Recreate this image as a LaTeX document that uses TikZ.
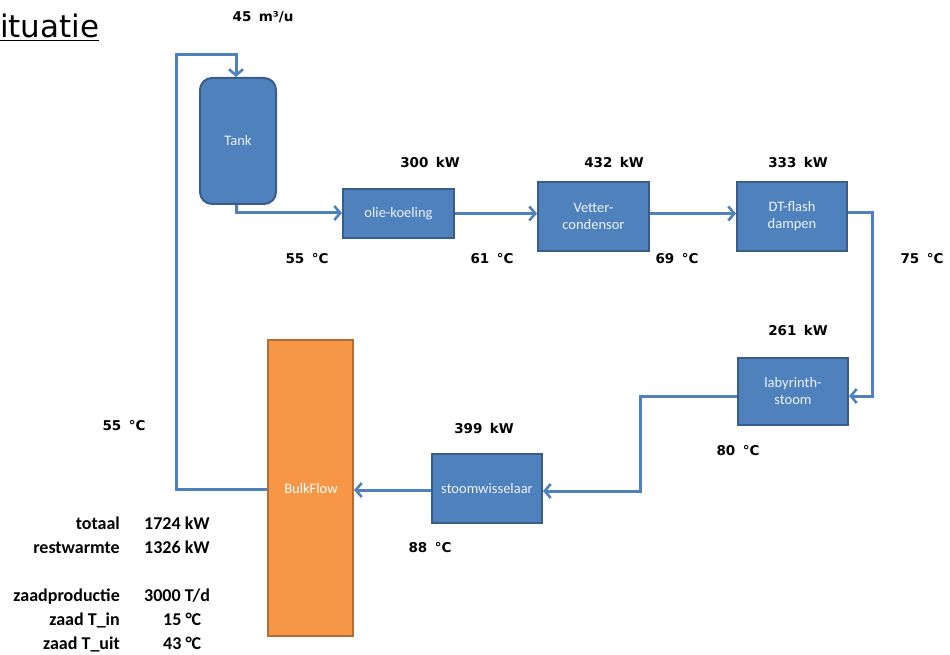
\documentclass[tikz,border=0pt]{standalone}
\usepackage{fontspec}
\setmainfont{DejaVu Sans}
\newfontfamily\calib{Carlito}
\usetikzlibrary{arrows.meta}
\definecolor{boxblue}{HTML}{4F81BD}
\definecolor{boxedge}{HTML}{385D8A}
\definecolor{lineblue}{HTML}{4F81BD}
\definecolor{boxorange}{HTML}{F79646}
\definecolor{orangeedge}{HTML}{B66D31}
\definecolor{boxtext}{HTML}{EEF2F8}
\newcommand{\gp}{\hspace{0.55em}}
\tikzset{
  x=1pt,y=-1pt,
  unit/.style={draw=boxedge,fill=boxblue,line width=2pt,minimum width=#1,
     text=boxtext,font=\calib\fontsize{14.5}{17}\selectfont,align=center,inner sep=0pt},
  lbl/.style={font=\bfseries\fontsize{13.5}{15}\selectfont,inner sep=0pt},
  tbl/.style={font=\calib\bfseries\fontsize{18}{20}\selectfont,inner sep=0pt},
  flow/.style={draw=lineblue,line width=3pt,-{Straight Barb[length=6pt,width=14pt,line width=2.6pt]}},
}
\begin{document}
\begin{tikzpicture}
\useasboundingbox (0,0) rectangle (950,655);
% title
\node[anchor=base west,inner sep=0pt,font=\fontsize{31}{34}\selectfont] (title) at (0,38) {\underline{ituatie}};
% units
\node[unit=76pt,minimum height=126pt,rounded corners=12pt] (tank) at (238,141) {Tank};
\node[unit=111pt,minimum height=49pt] (olie) at (398.5,213.5) {olie-koeling};
\node[unit=111pt,minimum height=69pt] (vetter) at (593.5,216.5) {Vetter-\\condensor};
\node[unit=110pt,minimum height=69pt] (dt) at (792,216.5) {DT-flash\\dampen};
\node[unit=110pt,minimum height=67pt] (laby) at (793,391.5) {labyrinth-\\stoom};
\node[unit=110pt,minimum height=69pt] (stoom) at (487,488.5) {stoomwisselaar};
\node[draw=orangeedge,fill=boxorange,line width=2pt,minimum width=85pt,minimum height=296pt,
      inner sep=0pt] (bulk) at (310.5,488) {};
\node[text=white,font=\calib\fontsize{14.5}{17}\selectfont,inner sep=0pt] (bulktxt) at (311,489) {BulkFlow};
% connectors
\coordinate (c1) at (176,489);
\coordinate (c2) at (176,55);
\coordinate (c3) at (236,55);
\draw[flow] (bulk.west |- c1) -- (c1) -- (c2) -- (c3) -- (c3 |- tank.north);
\coordinate (d1) at (236,213);
\draw[flow] (d1 |- tank.south) -- (d1) -- (olie.west |- d1);
\draw[flow] (olie.east) -- (vetter.west |- olie.east);
\draw[flow] (vetter.east |- olie.east) -- (dt.west |- olie.east);
\coordinate (e1) at (872,213);
\coordinate (e2) at (872,396);
\draw[flow] (dt.east |- e1) -- (e1) -- (e2) -- (laby.east |- e2);
\coordinate (f1) at (640,396);
\coordinate (f2) at (640,491);
\draw[flow] (laby.west |- f1) -- (f1) -- (f2) -- (stoom.east |- f2);
\draw[flow] (stoom.west |- 0,490) -- (bulk.east |- 0,490);
% labels
\node[lbl] (q0) at (263,17) {45\gp m³/u};
\node[lbl] (q1) at (430,162) {300\gp kW};
\node[lbl] (q2) at (614,162) {432\gp kW};
\node[lbl] (q3) at (798,162) {333\gp kW};
\node[lbl] (q4) at (798,330) {261\gp kW};
\node[lbl] (q5) at (484,428) {399\gp kW};
\node[lbl] (t1) at (307,259) {55\gp °C};
\node[lbl] (t2) at (492,259) {61\gp °C};
\node[lbl] (t3) at (677,259) {69\gp °C};
\node[lbl] (t4) at (922,259) {75\gp °C};
\node[lbl] (t5) at (738,451) {80\gp °C};
\node[lbl] (t6) at (430,548) {88\gp °C};
\node[lbl] (t7) at (124,426) {55\gp °C};
% table
\node[tbl,anchor=base east] (a1) at (120,529) {totaal};
\node[tbl,anchor=base east] (a2) at (120,553) {restwarmte};
\node[tbl,anchor=base east] (a3) at (120,601) {zaadproductie};
\node[tbl,anchor=base east] (a4) at (120,625) {zaad T\_in};
\node[tbl,anchor=base east] (a5) at (120,649) {zaad T\_uit};
\node[tbl,anchor=base west] (b1) at (144,529) {1724 kW};
\node[tbl,anchor=base west] (b2) at (144,553) {1326 kW};
\node[tbl,anchor=base west] (b3) at (144,601) {3000 T/d};
\node[tbl,anchor=base west] (b4) at (163,625) {15 °C};
\node[tbl,anchor=base west] (b5) at (163,649) {43 °C};
\end{tikzpicture}
\end{document}
